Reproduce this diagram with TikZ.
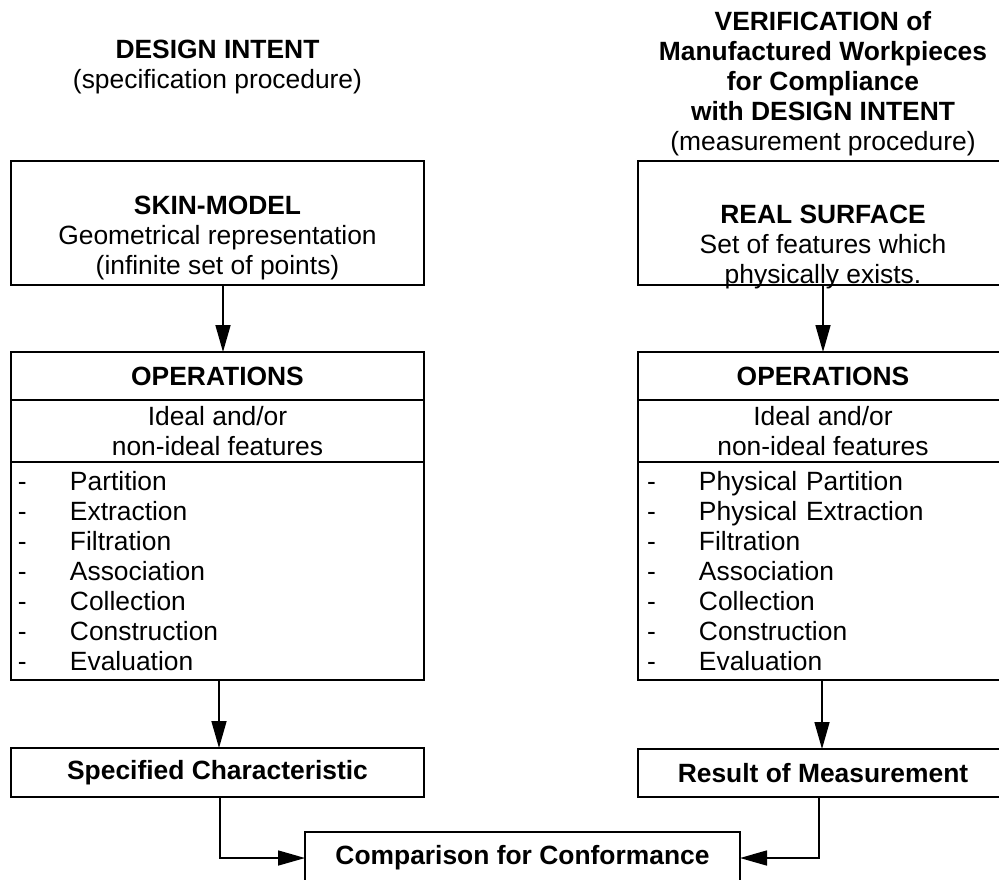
\documentclass[tikz,border=0pt]{standalone}
\usepackage{fontspec}
\setmainfont{Liberation Sans}
\usetikzlibrary{arrows.meta,positioning}
\newcommand{\listdash}{\makebox[26pt][l]{-}}
\begin{document}
\begin{tikzpicture}
		[x=0.5pt, y=-0.5pt,
		every node/.style={font=\fontsize{13.2}{15}\selectfont},
		mybox/.style={
			rectangle,
			draw,
			line width=1.1pt,
			inner sep=0pt,
			outer sep=0pt,
			align=center
		},
		plain/.style={align=center, inner sep=0pt},
		listbox/.style={mybox, align=left, inner ysep=0pt, minimum height=109pt},
		arr/.style={-{Triangle[length=13.5pt,width=7.5pt]}, line width=0.8pt}]
		\useasboundingbox (0,0) rectangle (999,879);
		% column headings
		\node[plain] (intentL) at (217.5,67.5) {\textbf{DESIGN INTENT}\\(specification procedure)};
		\node[plain] (intentR) at (823,83.5) {\textbf{VERIFICATION of}\\\textbf{Manufactured Workpieces}\\\textbf{for Compliance}\\\textbf{with DESIGN INTENT}\\(measurement procedure)};
		% left column
		\node[mybox, minimum width=206.5pt, minimum height=62pt] (skinL) at (217.5,223) {};
		\node[plain] (skinLtext) at (217.5,238) {\textbf{SKIN-MODEL}\\Geometrical representation\\(infinite set of points)};
		\node[mybox, minimum width=206.5pt, minimum height=24pt] (opsL) at (217.5,376) {\textbf{OPERATIONS}};
		\node[mybox, minimum width=206.5pt, minimum height=31pt, below=0pt of opsL] (featL) {Ideal and/or\\non-ideal features};
		\node[listbox, inner xsep=3.5pt, text width=199.5pt, below=0pt of featL] (listL) {
			\listdash Partition\\
			\listdash Extraction\\
			\listdash Filtration\\
			\listdash Association\\
			\listdash Collection\\
			\listdash Construction\\
			\listdash Evaluation};
		\node[mybox, minimum width=206.5pt, minimum height=24.5pt] (specL) at (217.5,772.5) {\textbf{Specified Characteristic}};
		% right column
		\node[mybox, minimum width=185pt, minimum height=62pt] (skinR) at (823,223) {};
		\node[plain] (skinRtext) at (823,247) {\textbf{REAL SURFACE}\\Set of features which\\physically exists.};
		\node[mybox, minimum width=185pt, minimum height=24pt] (opsR) at (823,376) {\textbf{OPERATIONS}};
		\node[mybox, minimum width=185pt, minimum height=31pt, below=0pt of opsR] (featR) {Ideal and/or\\non-ideal features};
		\node[listbox, inner xsep=4.5pt, text width=176pt, below=0pt of featR] (listR) {
			\listdash Physical Partition\\
			\listdash Physical Extraction\\
			\listdash Filtration\\
			\listdash Association\\
			\listdash Collection\\
			\listdash Construction\\
			\listdash Evaluation};
		\node[mybox, minimum width=185pt, minimum height=24pt] (resR) at (823,773) {\textbf{Result of Measurement}};
		% bottom
		\node[mybox, minimum width=217.5pt, minimum height=26pt] (comp) at (522.5,858) {\textbf{Comparison for Conformance}};
		% arrows
		\draw[arr] ([xshift=2.75pt]skinL.south) -- ([xshift=2.75pt]opsL.north);
		\draw[arr] ([xshift=0.75pt]listL.south) -- ([xshift=0.75pt]specL.north);
		\draw[arr] (skinR.south) -- (opsR.north);
		\draw[arr] ([xshift=-0.5pt]listR.south) -- ([xshift=-0.5pt]resR.north);
		\draw[arr] ([xshift=1.25pt]specL.south) |- (comp.west);
		\draw[arr] ([xshift=-2pt]resR.south) |- (comp.east);
\end{tikzpicture}
\end{document}
